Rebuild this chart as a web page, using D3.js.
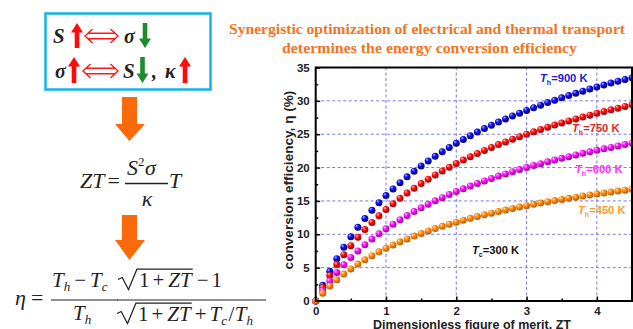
<!DOCTYPE html>
<html><head><meta charset="utf-8">
<script src="https://cdn.jsdelivr.net/npm/d3@7"></script>
<style>body{margin:0;background:#fff}svg{display:block}</style>
</head><body>
<svg id="c" width="633" height="329"></svg>
<script>
// ---------- data ----------
const zt = [0,0.1,0.2,0.3,0.4,0.5,0.6,0.7,0.8,0.9,1.0,1.1,1.2,1.3,1.4,1.5,1.6,1.7,1.8,1.9,2.0,2.1,2.2,2.3,2.4,2.5,2.6,2.7,2.8,2.9,3.0,3.1,3.2,3.3,3.4,3.5,3.6,3.7,3.8,3.9,4.0,4.1,4.2,4.3,4.4,4.5];
const eta900 = [0,2.35,4.45,6.34,8.05,9.62,11.05,12.37,13.60,14.74,15.80,16.80,17.73,18.62,19.45,20.24,20.98,21.69,22.37,23.01,23.63,24.22,24.78,25.32,25.84,26.34,26.82,27.28,27.73,28.16,28.57,28.97,29.36,29.74,30.10,30.45,30.80,31.13,31.45,31.77,32.07,32.37,32.66,32.94,33.21,33.48];
const eta750 = [0,2.02,3.83,5.46,6.94,8.30,9.55,10.70,11.77,12.77,13.70,14.57,15.40,16.17,16.91,17.60,18.26,18.89,19.49,20.06,20.60,21.12,21.62,22.10,22.57,23.01,23.44,23.85,24.25,24.63,25.00,25.36,25.71,26.04,26.37,26.68,26.99,27.29,27.58,27.86,28.13,28.40,28.66,28.91,29.16,29.40];
const eta600 = [0,1.58,2.99,4.27,5.44,6.52,7.50,8.42,9.28,10.07,10.82,11.52,12.18,12.81,13.40,13.96,14.50,15.01,15.49,15.95,16.40,16.82,17.23,17.62,18.00,18.37,18.72,19.05,19.38,19.70,20.00,20.30,20.58,20.86,21.13,21.39,21.64,21.89,22.13,22.36,22.59,22.81,23.02,23.24,23.44,23.64];
const eta450 = [0,1.18,2.23,3.17,4.03,4.81,5.53,6.19,6.80,7.37,7.90,8.40,8.87,9.31,9.73,10.12,10.49,10.85,11.19,11.51,11.82,12.11,12.39,12.66,12.92,13.17,13.41,13.64,13.87,14.08,14.29,14.49,14.68,14.87,15.05,15.23,15.40,15.57,15.73,15.89,16.04,16.19,16.33,16.47,16.61,16.74];
const seriesNames = ["900 K","750 K","600 K","450 K"];
const xTicks = [0,1,2,3,4];
const xTickLabels = ["0","1","2","3","4"];
const yTicks = [0,5,10,15,20,25,30,35];
const yTickLabels = ["0","5","10","15","20","25","30","35"];
const xMinor = [0.5,1.5,2.5,3.5];
const yMinor = [2.5,7.5,12.5,17.5,22.5,27.5,32.5];

// ---------- setup ----------
const svg = d3.select("#c");
const serif = "'Liberation Serif','Times New Roman',serif";
const sans = "'Liberation Sans',Arial,sans-serif";

const x = d3.scaleLinear().domain([0,4.5]).range([315.7,632]);
const y = d3.scaleLinear().domain([0,35]).range([301,67.5]);

const colors = [
  {base:"#1010ee", light:"#b0b0ff", dark:"#000078", text:"#1c1cc8"},
  {base:"#ff1010", light:"#ffbcbc", dark:"#980000", text:"#ee2222"},
  {base:"#ff14ff", light:"#ffc8ff", dark:"#980098", text:"#ff30ff"},
  {base:"#ff9010", light:"#ffe0b0", dark:"#b45600", text:"#ff9a2a"}
];
const defs = svg.append("defs");
colors.forEach((c,i)=>{
  const g = defs.append("radialGradient").attr("id","ball"+i)
    .attr("cx","40%").attr("cy","38%").attr("r","65%").attr("fx","32%").attr("fy","28%");
  g.append("stop").attr("offset","0%").attr("stop-color",c.light);
  g.append("stop").attr("offset","40%").attr("stop-color",c.base);
  g.append("stop").attr("offset","100%").attr("stop-color",c.dark);
});

// ---------- grid ----------
const grid = svg.append("g").attr("stroke","#7878e8").attr("stroke-width",1).attr("stroke-dasharray","3,2.5");
xTicks.filter(v=>v>0).forEach(v=>grid.append("line").attr("x1",x(v)).attr("x2",x(v)).attr("y1",y(0)).attr("y2",y(35)));
yTicks.filter(v=>v>0&&v<35).forEach(v=>grid.append("line").attr("x1",x(0)).attr("x2",x(4.5)).attr("y1",y(v)).attr("y2",y(v)));

// ---------- axes ----------
function styleAxis(g){
  g.select(".domain").remove();
  g.selectAll(".tick line").attr("stroke","#000").attr("stroke-width",1.5);
  g.selectAll(".tick text").attr("font-family",sans).attr("font-weight","bold").attr("font-size",11.5).attr("fill","#222");
}
svg.append("g").attr("transform",`translate(${x(0)},0)`)
  .call(d3.axisLeft(y).tickValues(yTicks).tickFormat((d,i)=>yTickLabels[i]).tickSize(-4.5).tickPadding(6)).call(styleAxis);
svg.append("g").attr("transform",`translate(${x(0)},0)`)
  .call(d3.axisLeft(y).tickValues(yMinor).tickFormat("").tickSize(-2.5)).call(styleAxis);
svg.append("g").attr("transform",`translate(0,${y(0)})`)
  .call(d3.axisBottom(x).tickValues(xTicks).tickFormat((d,i)=>xTickLabels[i]).tickSize(-4.5).tickPadding(5.5)).call(styleAxis);
svg.append("g").attr("transform",`translate(0,${y(0)})`)
  .call(d3.axisBottom(x).tickValues(xMinor).tickFormat("").tickSize(-2.5)).call(styleAxis);

// ---------- dots ----------
[eta900,eta750,eta600,eta450].forEach((vals,i)=>{
  svg.append("g").selectAll("circle").data(zt.map((z,j)=>[z,vals[j]])).join("circle")
    .attr("cx",d=>x(d[0])).attr("cy",d=>y(d[1])).attr("r",3.5)
    .attr("fill",`url(#ball${i})`);
});

// frame
svg.append("rect").attr("x",x(0)).attr("y",y(35)).attr("width",x(4.5)-x(0)).attr("height",y(0)-y(35))
  .attr("fill","none").attr("stroke","#000").attr("stroke-width",2);

// ---------- annotations ----------
function thLabel(px,py,sub,rest,fill){
  const t = svg.append("text").attr("x",px).attr("y",py).attr("font-family",sans).attr("font-weight","bold").attr("font-size",11.2).attr("fill",fill);
  t.append("tspan").attr("font-style","italic").text("T");
  t.append("tspan").attr("font-size",7).attr("dy",3).text(sub);
  t.append("tspan").attr("dy",-3).text(rest);
}
const annPos = [[540,82],[572,132],[575,173],[578,214]];
seriesNames.forEach((n,i)=>thLabel(annPos[i][0],annPos[i][1],"h","="+n,colors[i].text));
thLabel(472,254,"c","=300 K","#111");

// axis titles
svg.append("text").attr("transform","translate(292.5,180) rotate(-90)").attr("text-anchor","middle")
  .attr("font-family",sans).attr("font-weight","bold").attr("font-size",13.6).attr("fill","#222")
  .text("conversion efficiency, η (%)");
svg.append("text").attr("x",472).attr("y",328.5).attr("text-anchor","middle")
  .attr("font-family",sans).attr("font-weight","bold").attr("font-size",12.5).attr("fill","#222")
  .text("Dimensionless figure of merit, ZT");

// ---------- title ----------
svg.append("text").attr("x",427).attr("y",33.5).attr("text-anchor","middle")
  .attr("font-family",serif).attr("font-weight","bold").attr("font-size",15).attr("fill","#f4731e")
  .attr("textLength",396).attr("lengthAdjust","spacingAndGlyphs")
  .text("Synergistic optimization of electrical and thermal transport");
svg.append("text").attr("x",429.5).attr("y",52.5).attr("text-anchor","middle")
  .attr("font-family",serif).attr("font-weight","bold").attr("font-size",15).attr("fill","#f4731e")
  .attr("textLength",295).attr("lengthAdjust","spacingAndGlyphs")
  .text("determines the energy conversion efficiency");

// ---------- left panel ----------
const L = svg.append("g");
L.append("rect").attr("x",45.5).attr("y",13.5).attr("width",165).attr("height",76)
  .attr("fill","none").attr("stroke","#14b2ea").attr("stroke-width",2.5);

function vArrow(cx,top,bot,up,fill){
  const hh=9.5, hw=6, sw=2.3;
  let p;
  if(up) p=`M${cx},${top}L${cx+hw},${top+hh}L${cx+sw},${top+hh}L${cx+sw},${bot}L${cx-sw},${bot}L${cx-sw},${top+hh}L${cx-hw},${top+hh}Z`;
  else p=`M${cx},${bot}L${cx+hw},${bot-hh}L${cx+sw},${bot-hh}L${cx+sw},${top}L${cx-sw},${top}L${cx-sw},${bot-hh}L${cx-hw},${bot-hh}Z`;
  L.append("path").attr("d",p).attr("fill",fill);
}
function dblArrow(x1,x2,yc){
  const p=`M${x1+3.5},${yc-2.8}H${x2-3.5}M${x1+3.5},${yc+2.8}H${x2-3.5}M${x1+7.5},${yc-7}L${x1},${yc}L${x1+7.5},${yc+7}M${x2-7.5},${yc-7}L${x2},${yc}L${x2-7.5},${yc+7}`;
  L.append("path").attr("d",p).attr("fill","none").attr("stroke","#ff1a1a").attr("stroke-width",1.4);
}
function sym(t,px,py,size){
  L.append("text").attr("x",px).attr("y",py).attr("font-family",serif).attr("font-weight","bold")
    .attr("font-style","italic").attr("font-size",size||20).attr("fill","#222").text(t);
}
const RED="#ff0a0a", GREEN="#1f8a2e";
// row 1
sym("S",53,43,21);
vArrow(77,23,48,true,RED);
dblArrow(85,118,36);
sym("σ",124,43);
vArrow(145,23,48,false,GREEN);
// row 2
sym("σ",55,78);
vArrow(74,57,83,true,RED);
dblArrow(83,118,71);
sym("S",123,78,21);
vArrow(142.5,57,83,false,GREEN);
sym(",",152,78);
sym("κ",165,78);
vArrow(185,57,83,true,RED);

// big orange arrows
function bigArrow(top,mid,tip){
  L.append("path").attr("d",`M122,${top}H137V${mid}H145L129.5,${tip}L115,${mid}H122Z`).attr("fill","#fa6a0a");
}
bigArrow(97,124,141);
bigArrow(215,240,260);

// formula helpers
function seq(g,px,py,parts,size){
  let cx=px;
  parts.forEach(p=>{
    if(p.gap) cx+=p.gap;
    if(p.t===undefined) return;
    const el=g.append("text").attr("x",cx).attr("y",py+(p.dy||0)).attr("font-family",serif)
      .attr("font-size",p.size||size).attr("font-style",p.it?"italic":"normal").attr("fill","#222").text(p.t);
    cx+=el.node().getComputedTextLength();
  });
  return cx;
}
function radical(g,px,py,size,parts){
  const top=py-size*0.85;
  const end=seq(g,px+size*1.0,py,parts,size);
  g.append("path").attr("d",`M${px},${py-size*0.36}L${px+size*0.2},${py-size*0.45}L${px+size*0.5},${py+size*0.12}L${px+size*0.9},${top}H${end+1}`)
    .attr("fill","none").attr("stroke","#222").attr("stroke-width",1.2);
  return end;
}
// ZT = S^2 sigma / kappa T
const F = L.append("g");
seq(F,80,188,[{t:"ZT",it:true},{t:"=",gap:3}],22);
seq(F,127,175,[{t:"S",it:true},{t:"2",size:13,dy:-9},{t:"σ",it:true,gap:0.5}],22);
F.append("line").attr("x1",125).attr("x2",168).attr("y1",183.5).attr("y2",183.5).attr("stroke","#222").attr("stroke-width",1.3);
F.append("text").attr("x",147).attr("y",206).attr("text-anchor","middle").attr("font-family",serif).attr("font-style","italic").attr("font-size",22).attr("fill","#222").text("κ");
seq(F,169,188,[{t:"T",it:true}],22);

// eta formula
const E = L.append("g");
seq(E,15,305,[{t:"η",it:true},{t:"=",gap:5}],22);
seq(E,52,287,[{t:"T",it:true},{t:"h",it:true,size:13,dy:4},{t:"−",gap:4},{t:"T",it:true,gap:4},{t:"c",it:true,size:13,dy:4}],21);
E.append("line").attr("x1",51).attr("x2",118).attr("y1",300).attr("y2",300).attr("stroke","#222").attr("stroke-width",1.2);
seq(E,73,320,[{t:"T",it:true},{t:"h",it:true,size:13,dy:4}],21);
let e1 = radical(E,118,287,21,[{t:"1"},{t:"+",gap:3},{t:"ZT",it:true,gap:4}]);
seq(E,e1+5,287,[{t:"−"},{t:"1",gap:3}],21);
E.append("line").attr("x1",117).attr("x2",266).attr("y1",300).attr("y2",300).attr("stroke","#222").attr("stroke-width",1.2);
let e2 = radical(E,117,321,21,[{t:"1"},{t:"+",gap:3},{t:"ZT",it:true,gap:4}]);
seq(E,e2+4,321,[{t:"+"},{t:"T",it:true,gap:3},{t:"c",it:true,size:13,dy:4},{t:"/",gap:1.5},{t:"T",it:true,gap:0.5},{t:"h",it:true,size:13,dy:4}],21);
</script>
</body></html>
